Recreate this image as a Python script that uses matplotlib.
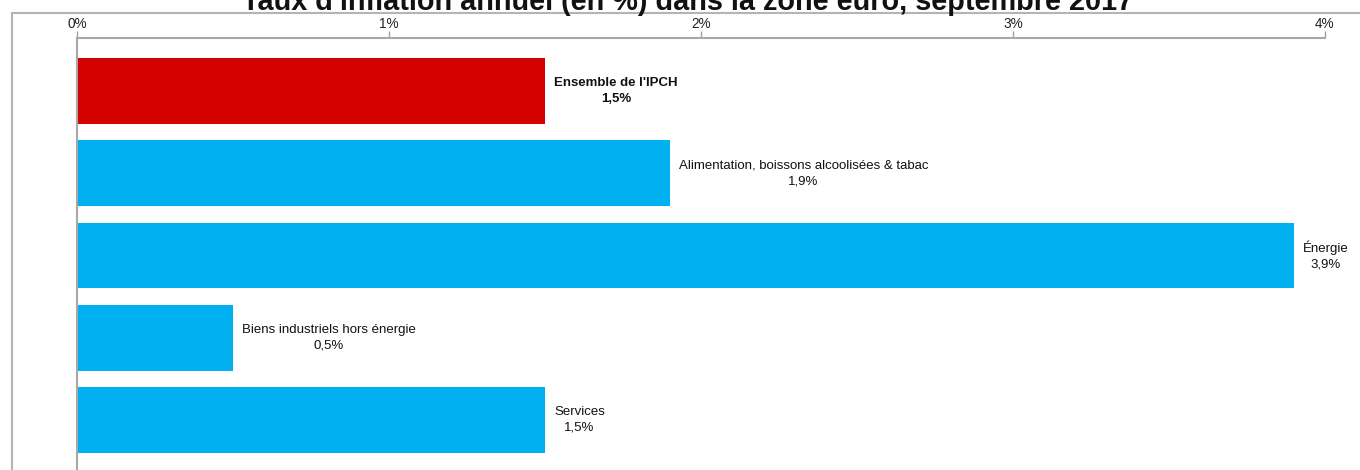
import matplotlib
matplotlib.use('Agg')
import matplotlib.pyplot as plt
from matplotlib.patches import Rectangle

# Data
categories = ["Ensemble de l'IPCH", "Alimentation, boissons alcoolisées & tabac",
              "Énergie", "Biens industriels hors énergie", "Services"]
values = [1.5, 1.9, 3.9, 0.5, 1.5]
value_labels = ["1,5%", "1,9%", "3,9%", "0,5%", "1,5%"]
colors = ['#D40000', '#00B0F0', '#00B0F0', '#00B0F0', '#00B0F0']
bold = [True, False, False, False, False]
xticks = [0, 1, 2, 3, 4]
xtick_labels = ['0%', '1%', '2%', '3%', '4%']
title = "Taux d'inflation annuel (en %) dans la zone euro, septembre 2017"

plt.rcParams['font.family'] = ['Liberation Sans', 'DejaVu Sans']

W, H = 1360, 470
fig = plt.figure(figsize=(W / 100, H / 100), dpi=100)

# plot area in pixel coords
left, right, top, bottom = 77, 1325, 38, 500
ax = fig.add_axes([left / W, 1 - bottom / H, (right - left) / W, (bottom - top) / H])

pos = list(range(len(categories)))
ax.barh(pos, values, height=0.8, color=colors)
ax.set_xlim(0, 4)
ax.set_ylim(4.973, -0.644)

ax.xaxis.tick_top()
ax.set_xticks(xticks)
ax.set_xticklabels(xtick_labels, fontsize=9.8, color='#222222')
ax.tick_params(axis='x', length=5, width=1, color='#a0a0a0', pad=0)
ax.set_yticks([])

for s in ['right', 'bottom']:
    ax.spines[s].set_visible(False)
for s in ['top', 'left']:
    ax.spines[s].set_color('#a8a8a8')
    ax.spines[s].set_linewidth(1.5)

for i, (cat, v, lab) in enumerate(zip(categories, values, value_labels)):
    ax.annotate(cat + '\n' + lab, xy=(v, i), xytext=(9, 0), textcoords='offset pixels',
                ha='left', va='center', multialignment='center', fontsize=9.5,
                fontweight='bold' if bold[i] else 'normal', color='#111111',
                linespacing=1.45, annotation_clip=False)

# outer chart frame
fig.patches.append(Rectangle((12 / W, -0.2), 1.2, 1 - 13 / H + 0.2, transform=fig.transFigure,
                             fill=False, edgecolor='#b4b4b4', linewidth=1.5))

fig.text(688 / W, 1 - 10 / H, title, ha='center', va='baseline',
         fontsize=20.8, fontweight='bold', color='#111111')

fig.savefig('out.png', dpi=100)
